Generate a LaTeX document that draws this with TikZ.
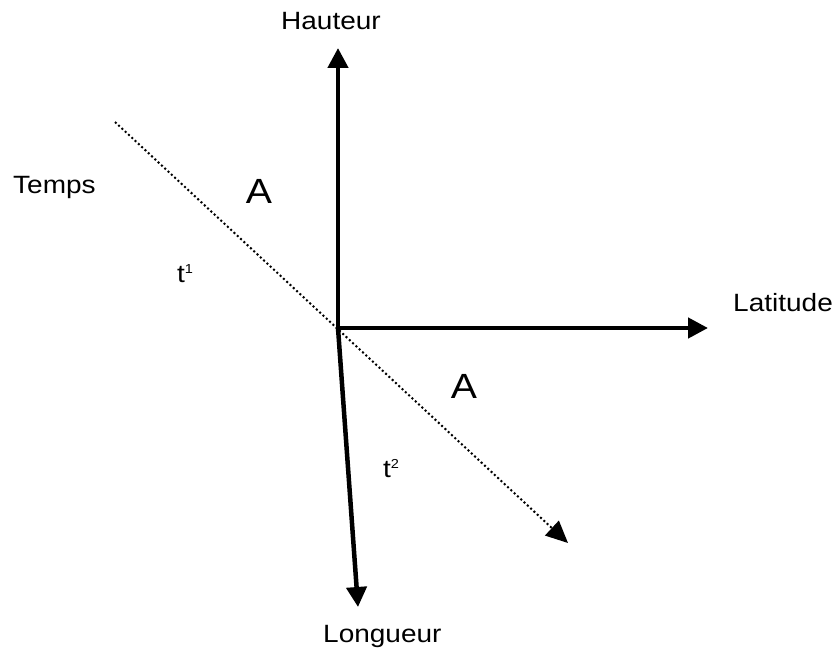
\documentclass[tikz,border=0pt]{standalone}
\usepackage{fontspec}
\setmainfont[FakeStretch=1.12]{Liberation Sans}
\usetikzlibrary{arrows.meta}
\tikzset{
  axis/.style={line width=4.5pt, -{Triangle[length=20pt,width=20pt]}},
  timeline/.style={line width=2pt, dash pattern=on 2pt off 2.5pt, -{Triangle[length=22pt,width=20pt]}},
  lbl/.style={inner sep=0pt, anchor=base west, font=\fontsize{25}{29}\selectfont},
  biglbl/.style={inner sep=0pt, anchor=base, font=\fontsize{35}{40}\selectfont},
}
\newcommand{\supsc}[1]{\raisebox{9pt}{\fontsize{13}{14}\selectfont #1}}
\begin{document}
\begin{tikzpicture}[x=1pt,y=-1pt]
\useasboundingbox (0,0) rectangle (832,650);
\coordinate (O) at (338,328);
\coordinate (top) at (338,48);
\coordinate (right) at (708,328);
\coordinate (bottom) at (358,607);
\coordinate (tstart) at (115,122);
\coordinate (tend) at (568,543);
\draw[timeline] (tstart) -- (tend);
\draw[axis] (O) -- (top);
\draw[axis] (O) -- (right);
\draw[axis] (O) -- (bottom);
\node[lbl] (hauteur) at (281,30) {Hauteur};
\node[lbl] (latitude) at (733,311) {Latitude};
\node[lbl] (longueur) at (323,642) {Longueur};
\node[lbl] (temps) at (13,193) {Temps};
\node[biglbl] (a1) at (259,203) {A};
\node[biglbl] (a2) at (464,398) {A};
\node[lbl] (t1) at (177,282) {t\supsc{1}};
\node[lbl] (t2) at (383,477) {t\supsc{2}};
\end{tikzpicture}
\end{document}
